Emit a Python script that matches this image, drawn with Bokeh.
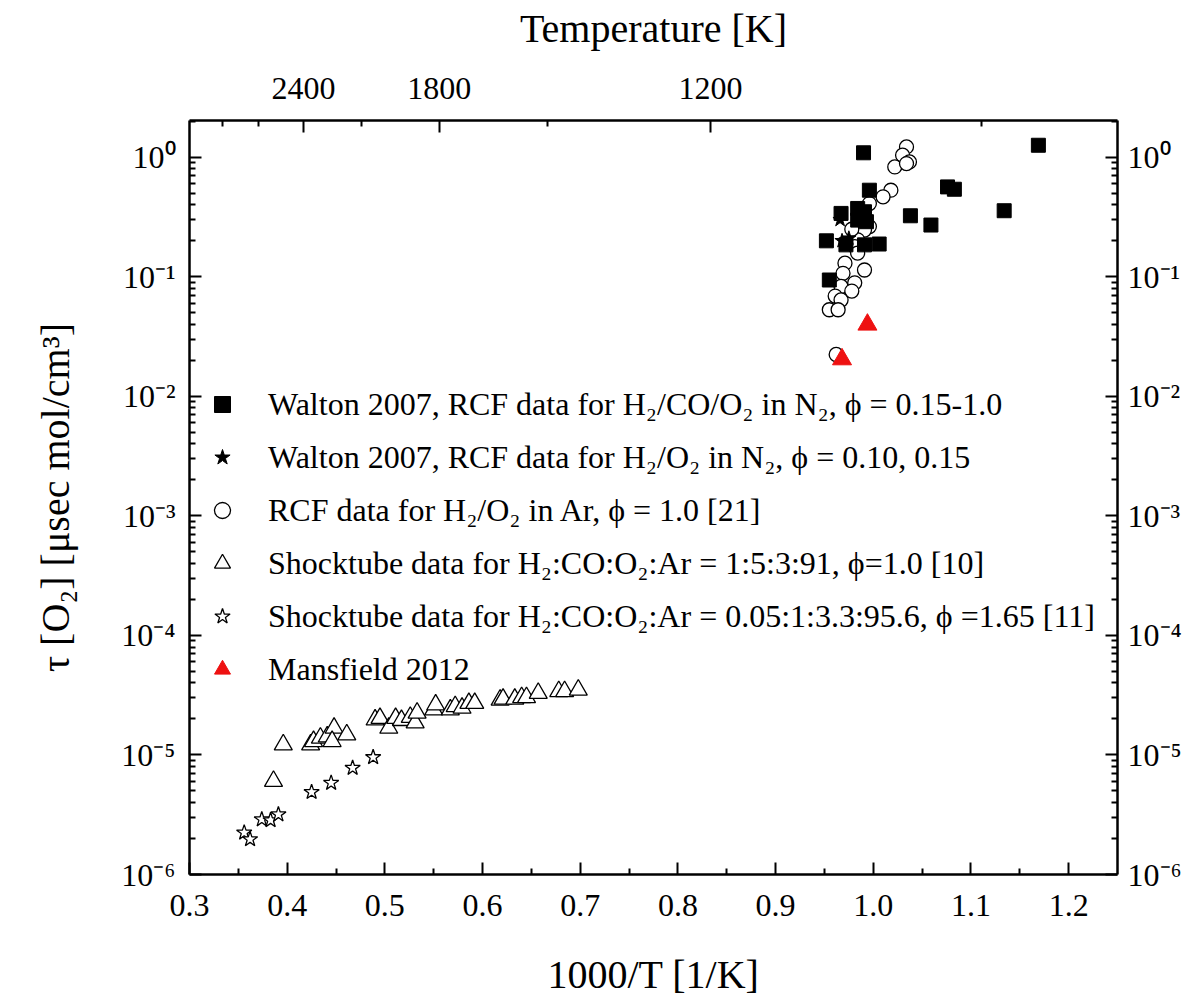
from bokeh.plotting import figure
from bokeh.models import (LogAxis, LinearAxis, FixedTicker, CustomJSTickFormatter,
                          Legend, LegendItem, Range1d)
from bokeh.embed import file_html
from bokeh.resources import INLINE

FONT = "Liberation Serif"

# ---- data ----
walton_co_x = [0.990, 1.169, 0.996, 1.076, 1.083, 1.038, 1.059, 1.134, 0.967, 0.984,
               0.991, 0.984, 0.993, 0.952, 0.972, 0.991, 1.006, 0.955]
walton_co_y = [1.09, 1.26, 0.53, 0.565, 0.54, 0.324, 0.271, 0.357, 0.339, 0.373,
               0.35, 0.298, 0.289, 0.200, 0.185, 0.185, 0.188, 0.094]

walton_h2_x = [0.966, 0.968, 0.975]
walton_h2_y = [0.30, 0.20, 0.21]

rcf_ar_x = [1.034, 1.030, 1.037, 1.022, 1.034, 1.018, 1.010, 0.996, 0.996, 0.991,
            0.984, 0.981, 0.984, 0.971, 0.991, 0.969, 0.981, 0.967, 0.978, 0.961,
            0.967, 0.955, 0.964, 0.962, 0.978, 0.988]
rcf_ar_y = [1.22, 1.04, 0.914, 0.83, 0.886, 0.53, 0.467, 0.41, 0.263, 0.246,
            0.204, 0.179, 0.158, 0.130, 0.114, 0.107, 0.089, 0.083, 0.076, 0.069,
            0.064, 0.053, 0.053, 0.0224, 0.25, 0.32]

shock1_x = [0.396, 0.386, 0.424, 0.427, 0.434, 0.441, 0.448, 0.461, 0.446, 0.490,
            0.495, 0.504, 0.511, 0.517, 0.526, 0.531, 0.533, 0.550, 0.552, 0.567,
            0.572, 0.579, 0.586, 0.592, 0.618, 0.621, 0.633, 0.640, 0.645, 0.657,
            0.678, 0.684, 0.698]
shock1_y = [1.22e-5, 6.04e-6, 1.22e-5, 1.30e-5, 1.39e-5, 1.42e-5, 1.68e-5, 1.48e-5, 1.30e-5, 1.97e-5,
            2.03e-5, 1.68e-5, 2.03e-5, 1.95e-5, 2.07e-5, 1.86e-5, 2.25e-5, 2.39e-5, 2.63e-5, 2.39e-5,
            2.55e-5, 2.47e-5, 2.71e-5, 2.71e-5, 2.89e-5, 2.94e-5, 2.94e-5, 3.03e-5, 3.03e-5, 3.29e-5,
            3.40e-5, 3.40e-5, 3.50e-5]

shock2_x = [0.356, 0.362, 0.374, 0.383, 0.391, 0.425, 0.445, 0.467, 0.488]
shock2_y = [2.24e-6, 1.97e-6, 2.89e-6, 2.84e-6, 3.18e-6, 4.89e-6, 5.84e-6, 7.79e-6, 9.57e-6]

mansfield_x = [0.994, 0.968]
mansfield_y = [0.0398, 0.0204]

labels = [
    "Walton 2007, RCF data for H\u2082/CO/O\u2082 in N\u2082, \u03d5 = 0.15-1.0",
    "Walton 2007, RCF data for H\u2082/O\u2082 in N\u2082, \u03d5 = 0.10, 0.15",
    "RCF data for H\u2082/O\u2082 in Ar, \u03d5 = 1.0 [21]",
    "Shocktube data for H\u2082:CO:O\u2082:Ar = 1:5:3:91, \u03d5=1.0 [10]",
    "Shocktube data for H\u2082:CO:O\u2082:Ar = 0.05:1:3.3:95.6, \u03d5 =1.65 [11]",
    "Mansfield 2012",
]

x_major = [0.3, 0.4, 0.5, 0.6, 0.7, 0.8, 0.9, 1.0, 1.1, 1.2]
x_minor = [0.35, 0.45, 0.55, 0.65, 0.75, 0.85, 0.95, 1.05, 1.15]
y_decades = [1e-6, 1e-5, 1e-4, 1e-3, 1e-2, 1e-1, 1e0]
temp_major = [2400, 1800, 1200]
temp_minor = [3000, 2700, 2100, 1500, 900]

Y_MAX = 2.03
y_minor = [m * 10.0 ** n for n in range(-6, 1) for m in range(2, 10) if m * 10.0 ** n <= Y_MAX]

p = figure(width=1190, height=999, x_range=Range1d(0.3, 1.25), y_range=Range1d(1e-6, Y_MAX),
           y_axis_type="log", output_backend="svg", toolbar_location=None,
           min_border_left=189, min_border_right=73, min_border_top=120, min_border_bottom=124)
p.xgrid.visible = False
p.ygrid.visible = False
p.outline_line_color = None
p.background_fill_color = "white"

log_fmt = CustomJSTickFormatter(code="""
const sup = {'-':'\u207b','0':'\u2070','1':'\u00b9','2':'\u00b2','3':'\u00b3','4':'\u2074','5':'\u2075','6':'\u2076','7':'\u2077','8':'\u2078','9':'\u2079'};
const e = Math.round(Math.log10(tick));
return '10' + String(e).split('').map(c => sup[c]).join('');
""")
temp_fmt = CustomJSTickFormatter(code="return String(Math.round(1000/tick));")
x_fmt = CustomJSTickFormatter(code="return tick.toFixed(1);")


def style(ax):
    ax.axis_line_width = 2.5
    ax.axis_line_color = "black"
    ax.major_tick_in = 12
    ax.major_tick_out = 0
    ax.minor_tick_in = 6
    ax.minor_tick_out = 0
    ax.major_tick_line_width = 2
    ax.minor_tick_line_width = 2
    ax.major_tick_line_color = "black"
    ax.minor_tick_line_color = "black"
    ax.major_label_text_font = FONT
    ax.major_label_text_font_size = "32px"
    ax.major_label_text_color = "black"
    ax.axis_label_text_font = FONT
    ax.axis_label_text_font_size = "40px"
    ax.axis_label_text_font_style = "normal"
    ax.axis_label_text_color = "black"


# bottom
xb = p.xaxis[0]
xb.ticker = FixedTicker(ticks=x_major, minor_ticks=x_minor)
xb.formatter = x_fmt
xb.axis_label = "1000/T [1/K]"
style(xb)
xb.major_label_standoff = 20
xb.axis_label_standoff = 33

# left
yl = p.yaxis[0]
yl.ticker = FixedTicker(ticks=y_decades, minor_ticks=y_minor)
yl.formatter = log_fmt
yl.axis_label = "\u03c4 [O\u2082] [\u03bcsec mol/cm\u00b3]"
style(yl)
yl.major_label_standoff = 14
yl.axis_label_standoff = 40

# right
yr = LogAxis(ticker=FixedTicker(ticks=y_decades, minor_ticks=y_minor), formatter=log_fmt)
style(yr)
yr.major_label_standoff = 10
p.add_layout(yr, "right")

# top
xt = LinearAxis(ticker=FixedTicker(ticks=[1000.0 / t for t in temp_major],
                                   minor_ticks=[1000.0 / t for t in temp_minor]),
                formatter=temp_fmt, axis_label="Temperature [K]")
style(xt)
xt.major_label_standoff = 22
xt.axis_label_standoff = 24
p.add_layout(xt, "above")

# data
r_rcf = p.scatter(rcf_ar_x, rcf_ar_y, marker="circle", size=14, fill_color="white",
                  line_color="black", line_width=1.3)
r_s1 = p.scatter(shock1_x, shock1_y, marker="triangle", size=18, fill_color="white",
                 line_color="black", line_width=1.3)
r_s2 = p.scatter(shock2_x, shock2_y, marker="star", size=16, fill_color="white",
                 line_color="black", line_width=1.3)
r_wh2 = p.scatter(walton_h2_x, walton_h2_y, marker="star", size=15, fill_color="black",
                  line_color="black")
r_wco = p.scatter(walton_co_x, walton_co_y, marker="square", size=14, fill_color="black",
                  line_color="black")
r_man = p.scatter(mansfield_x, mansfield_y, marker="triangle", size=19, fill_color="#ee1111",
                  line_color="#ee1111")

legend = Legend(items=[LegendItem(label=labels[0], renderers=[r_wco]),
                       LegendItem(label=labels[1], renderers=[r_wh2]),
                       LegendItem(label=labels[2], renderers=[r_rcf]),
                       LegendItem(label=labels[3], renderers=[r_s1]),
                       LegendItem(label=labels[4], renderers=[r_s2]),
                       LegendItem(label=labels[5], renderers=[r_man])],
                location=(13, 185), padding=0, margin=0, spacing=13,
                glyph_width=40, glyph_height=40, label_height=40, label_standoff=26,
                label_text_font=FONT, label_text_font_size="32px", label_text_color="black",
                border_line_color=None, background_fill_alpha=0)
p.add_layout(legend)

open("out.html", "w").write(file_html(p, INLINE))
